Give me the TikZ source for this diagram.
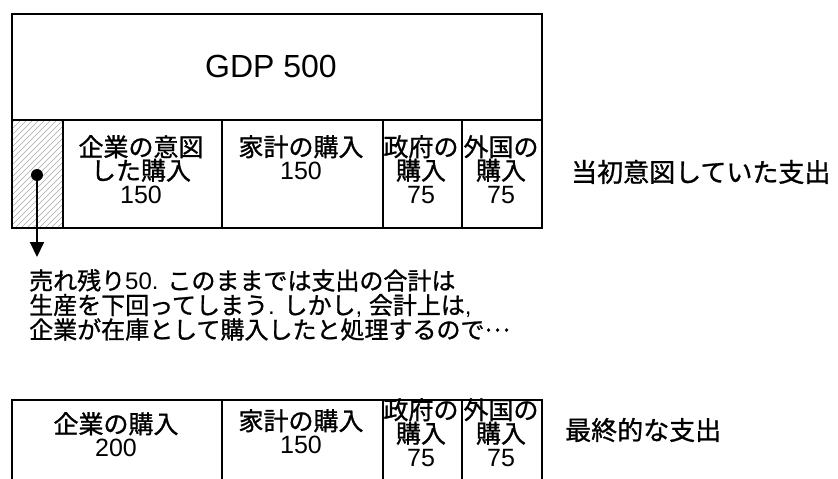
\documentclass[tikz,border=0pt]{standalone}
\usepackage{fontspec}
\setmainfont{Liberation Sans}
\newfontfamily\cjk[FakeBold=1]{Noto Sans CJK JP}
\usetikzlibrary{arrows.meta}
\begin{document}
\begin{tikzpicture}[x=1pt,y=-1pt,
  cellbox/.style={draw=black, line width=2.2pt, rectangle, inner sep=0pt, anchor=north west},
  celltext/.style={align=center, inner sep=0pt, anchor=north, font=\fontsize{25}{23.5}\selectfont},
  sidelabel/.style={inner sep=0pt, anchor=west, font=\cjk\fontsize{26}{30}\selectfont},
  hatch/.style={draw=gray!70, line width=0.6pt}]
\useasboundingbox (0,0) rectangle (838,479);
% top box
\node[cellbox, minimum width=530pt, minimum height=106pt] (gdp) at (11,13) {};
\node[inner sep=0pt, font=\fontsize{32}{36}\selectfont] (gdptext) at (271,66) {GDP 500};
% hatched cell
\begin{scope}
  \clip (11,119) rectangle (62,227);
  \foreach \c in {-110,-104,...,70} {
    \draw[hatch] (\c,227) -- (\c+108,119);
  }
\end{scope}
\node[cellbox, minimum width=51pt, minimum height=108pt] (unsold) at (11,119) {};
\node[cellbox, minimum width=159pt, minimum height=108pt] (firm) at (62,119) {};
\node[cellbox, minimum width=161pt, minimum height=108pt] (house) at (221,119) {};
\node[cellbox, minimum width=79pt, minimum height=108pt] (gov) at (382,119) {};
\node[cellbox, minimum width=80pt, minimum height=108pt] (foreign) at (461,119) {};
\node[celltext] (firmtext) at (141,135) {{\cjk 企業の意図}\\{\cjk した購入}\\150};
\node[celltext] (housetext) at (301,135) {{\cjk 家計の購入}\\150};
\node[celltext] (govtext) at (421,135) {{\cjk 政府の}\\{\cjk 購入}\\75};
\node[celltext] (foreigntext) at (501,135) {{\cjk 外国の}\\{\cjk 購入}\\75};
\node[sidelabel] (initial) at (571,172) {当初意図していた支出};
% arrow from unsold part
\fill (37,175) circle (6);
\coordinate (dot) at (37,175);
\coordinate (tip) at (37,257);
\draw[line width=2pt, -{Triangle[width=14pt,length=15pt]}] (dot) -- (tip);
\node[inner sep=0pt, anchor=north west, align=left, font=\fontsize{24}{24.5}\selectfont] (explain) at (29,269)
  {{\cjk 売れ残り}50. {\cjk このままでは支出の合計は}\\
   {\cjk 生産を下回ってしまう}. {\cjk しかし}, {\cjk 会計上は},\\
   {\cjk 企業が在庫として購入したと処理するので\raisebox{0.3em}{…}}};
% bottom box
\node[cellbox, minimum width=210pt, minimum height=90pt] (firm2) at (11,399) {};
\node[cellbox, minimum width=161pt, minimum height=90pt] (house2) at (221,399) {};
\node[cellbox, minimum width=79pt, minimum height=90pt] (gov2) at (382,399) {};
\node[cellbox, minimum width=80pt, minimum height=90pt] (foreign2) at (461,399) {};
\node[celltext] (firm2text) at (116,412) {{\cjk 企業の購入}\\200};
\node[celltext] (house2text) at (301,409) {{\cjk 家計の購入}\\150};
\node[celltext] (gov2text) at (421,398) {{\cjk 政府の}\\{\cjk 購入}\\75};
\node[celltext] (foreign2text) at (501,398) {{\cjk 外国の}\\{\cjk 購入}\\75};
\node[sidelabel] (final) at (565,430) {最終的な支出};
\end{tikzpicture}
\end{document}
